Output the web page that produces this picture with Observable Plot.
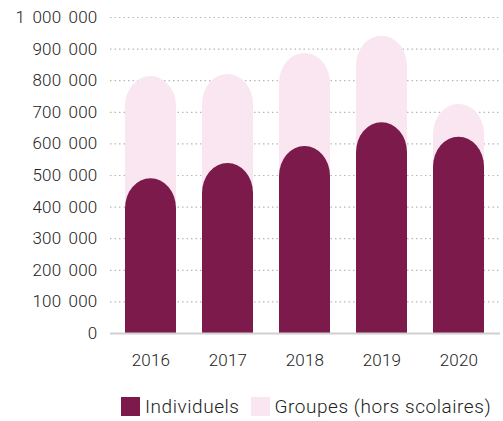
<!DOCTYPE html>
<html>
<head>
<meta charset="utf-8">
<script src="https://cdn.jsdelivr.net/npm/d3@7"></script>
<script src="https://cdn.jsdelivr.net/npm/@observablehq/plot@0.6"></script>
<style>
  html, body { margin: 0; padding: 0; background: #fff; }
  body { width: 503px; height: 421px; overflow: hidden; font-family: Roboto, sans-serif; color: #333; }
  #chart { position: relative; }
  .legend { position: absolute; left: 121px; top: 397px; display: flex; align-items: center; font-size: 19px; font-weight: 300; color: #222; white-space: nowrap; line-height: 19px; letter-spacing: 0.55px; }
  .legend .sw { width: 19px; height: 19px; display: inline-block; margin-right: 5px; }
  .legend .item { display: flex; align-items: center; margin-right: 11px; }
</style>
</head>
<body>
<div id="chart"></div>
<script>
const years = ["2016", "2017", "2018", "2019", "2020"];
const individuels = [490000, 538000, 592000, 667000, 621000];
const groupes = [813000, 820000, 886000, 941000, 725000];
const yTicks = [0, 100000, 200000, 300000, 400000, 500000, 600000, 700000, 800000, 900000, 1000000];
const seriesNames = ["Individuels", "Groupes (hors scolaires)"];
const colors = ["#7b1a4b", "#f9e6f0"];

const rowsInd = years.map((y, i) => ({year: y, value: individuels[i]}));
const rowsGrp = years.map((y, i) => ({year: y, value: groupes[i]}));

const fmt = d3.formatLocale({decimal: ",", thousands: "\u2009\u2009", grouping: [3], currency: ["", " €"]}).format(",d");

const plot = Plot.plot({
  width: 503,
  height: 385,
  marginTop: 17,
  marginBottom: 52,
  marginLeft: 110,
  marginRight: 3,
  style: {fontFamily: "Roboto, sans-serif", fontSize: "17px", fontWeight: 300, color: "#222", background: "#fff", letterSpacing: "0.2px"},
  x: {domain: years, paddingInner: 0.333, paddingOuter: 0.1667, label: null, tickSize: 0, tickPadding: 20},
  y: {domain: [0, 1000000], ticks: yTicks, label: null, tickSize: 0, tickPadding: 13, tickFormat: fmt},
  marks: [
    Plot.ruleY(yTicks.filter(d => d > 0), {stroke: "#b8b8b8", strokeDasharray: "1.5,3", strokeWidth: 1.2}),
    Plot.barY(rowsGrp, {x: "year", y: "value", fill: colors[1], rx: 30, insetBottom: -40, clip: true}),
    Plot.barY(rowsInd, {x: "year", y: "value", fill: colors[0], rx: 30, insetBottom: -40, clip: true}),
    Plot.ruleY([0], {stroke: "#d0d0d0", strokeWidth: 2})
  ]
});
document.getElementById("chart").appendChild(plot);

const legend = document.createElement("div");
legend.className = "legend";
seriesNames.forEach((name, i) => {
  const item = document.createElement("span");
  item.className = "item";
  const sw = document.createElement("span");
  sw.className = "sw";
  sw.style.background = colors[i];
  item.appendChild(sw);
  item.appendChild(document.createTextNode(name));
  legend.appendChild(item);
});
document.getElementById("chart").appendChild(legend);
</script>
</body>
</html>
